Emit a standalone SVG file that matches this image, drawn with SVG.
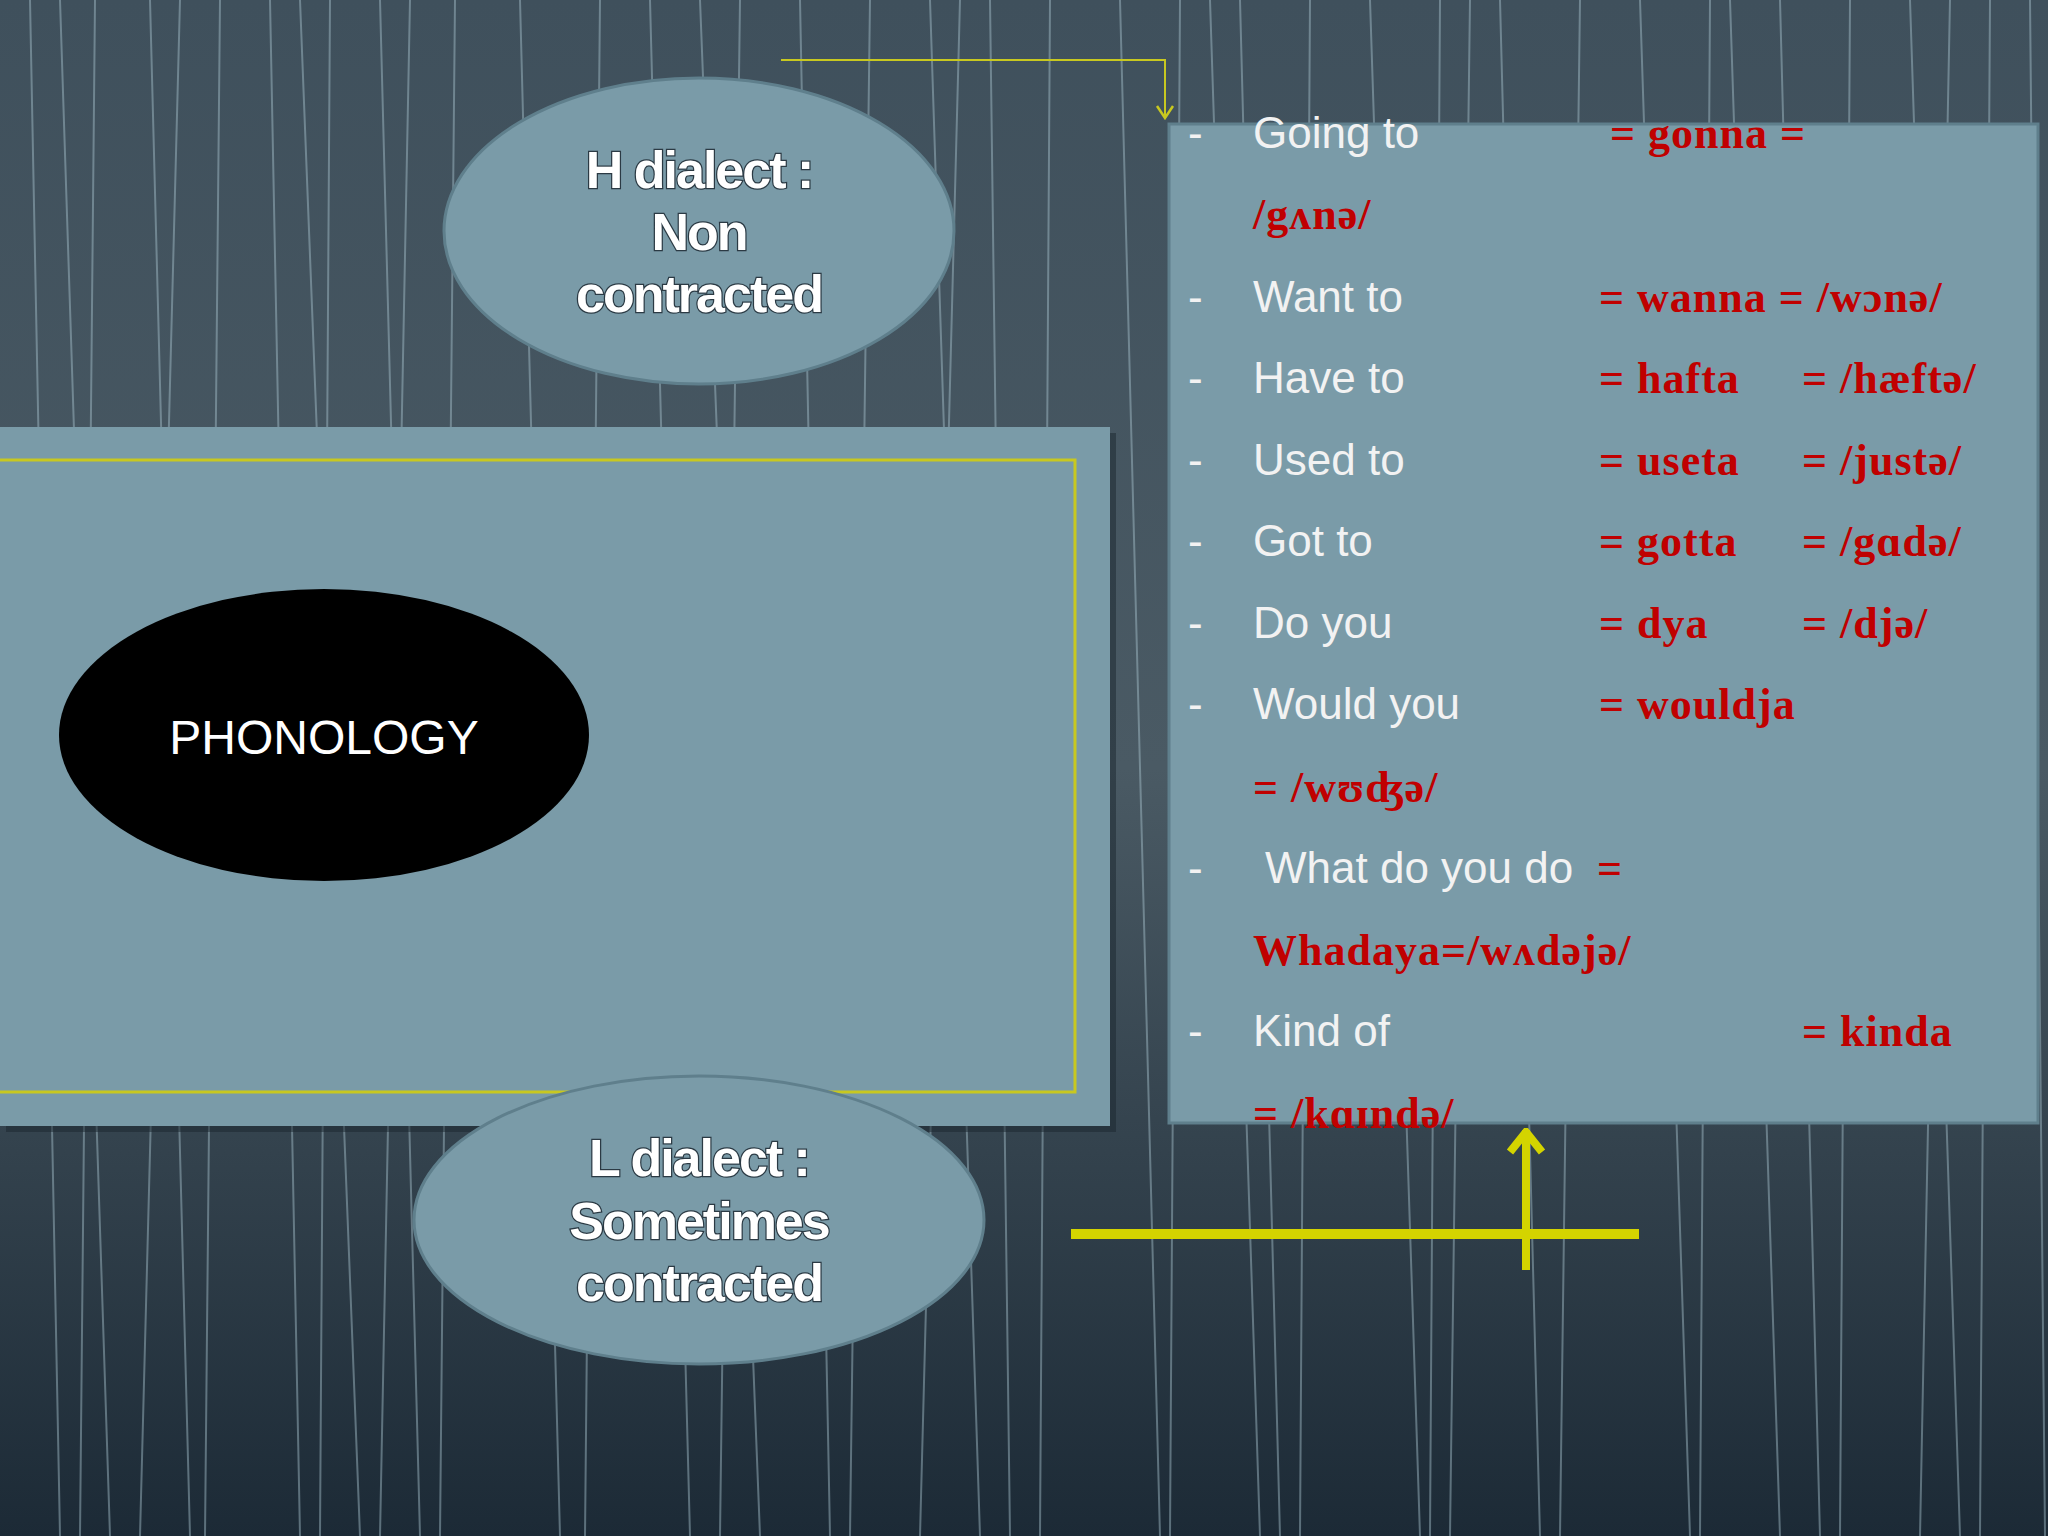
<svg xmlns="http://www.w3.org/2000/svg" width="2048" height="1536" viewBox="0 0 2048 1536">
<defs>
<linearGradient id="bg" x1="0" y1="0" x2="0" y2="1"><stop offset="0" stop-color="#3f505c"/><stop offset="0.5" stop-color="#4a5a64"/><stop offset="1" stop-color="#1c2a36"/></linearGradient>
<marker id="chev" viewBox="0 0 20 20" refX="10" refY="18" markerWidth="20" markerHeight="20" markerUnits="userSpaceOnUse" orient="0"><path d="M2,6 L10,18 L18,6" fill="none" stroke="#c8c820" stroke-width="2.5"/></marker>
<marker id="big" viewBox="0 0 40 30" refX="20" refY="2" markerWidth="40" markerHeight="30" markerUnits="userSpaceOnUse" orient="0"><path d="M4,24 L20,4 L36,24" fill="none" stroke="#d4d400" stroke-width="8"/></marker>
</defs>
<style>
.bgl{stroke:#a9c4cf;stroke-width:2;opacity:0.45}
.lt{font-family:"Liberation Sans",Arial,sans-serif;font-size:44px;fill:#f2f2f2}
.rd{font-family:"Liberation Serif","DejaVu Serif",serif;font-size:44px;font-weight:bold;fill:#c00000;letter-spacing:1px}
.hd{font-family:"Liberation Sans",Arial,sans-serif;font-size:52px;font-weight:bold;fill:#ffffff;stroke:#2b3a44;stroke-width:2.5;paint-order:stroke;text-anchor:middle;letter-spacing:-2px}
.ell{fill:#7a9ba8;stroke:#5f7f8c;stroke-width:3}
</style>
<rect width="2048" height="1536" fill="url(#bg)"/>
<g id="bglines">
<path class="bgl" d="M30,0 L60,1536 M95,0 L80,1536 M150,0 L190,1536 M220,0 L205,1536 M270,0 L300,1536 M330,0 L320,1536 M380,0 L420,1536 M455,0 L440,1536 M520,0 L560,1536 M600,0 L585,1536 M650,0 L690,1536 M740,0 L720,1536 M800,0 L830,1536 M870,0 L850,1536 M930,0 L980,1536 M990,0 L1010,1536 M1050,0 L1040,1536 M1120,0 L1160,1536 M1180,0 L1170,1536 M1240,0 L1280,1536 M1310,0 L1300,1536 M1370,0 L1420,1536 M1440,0 L1430,1536 M1500,0 L1540,1536 M1580,0 L1560,1536 M1640,0 L1690,1536 M1710,0 L1700,1536 M1780,0 L1820,1536 M1850,0 L1840,1536 M1910,0 L1960,1536 M1990,0 L1980,1536 M2030,0 L2045,1536"/>
<path class="bgl" d="M60,0 L110,1536 M180,0 L140,1536 M300,0 L360,1536 M410,0 L380,1536 M700,0 L760,1536 M960,0 L920,1536 M1210,0 L1260,1536 M1470,0 L1450,1536 M1730,0 L1780,1536 M1950,0 L1920,1536" opacity="0.3"/>
</g>
<g id="main-box">
<rect x="6" y="433" width="1110" height="699" fill="#1a252d" opacity="0.5"/>
<rect x="0" y="427" width="1110" height="699" fill="#7a9ba8"/>
<rect x="-4" y="460" width="1079" height="632" fill="none" stroke="#c8c820" stroke-width="3"/>
</g>
<g id="phonology">
<ellipse cx="324" cy="735" rx="265" ry="146" fill="#000"/>
<text x="324" y="754" text-anchor="middle" font-family="Liberation Sans,Arial,sans-serif" font-size="48" fill="#fff">PHONOLOGY</text>
</g>
<g id="h-dialect">
<ellipse class="ell" cx="699" cy="231" rx="255" ry="153"/>
<text class="hd" x="699" y="188">H dialect :</text>
<text class="hd" x="699" y="250">Non</text>
<text class="hd" x="699" y="312">contracted</text>
</g>
<g id="l-dialect">
<ellipse class="ell" cx="699" cy="1220" rx="285" ry="144"/>
<text class="hd" x="699" y="1176">L dialect :</text>
<text class="hd" x="699" y="1239">Sometimes</text>
<text class="hd" x="699" y="1301">contracted</text>
</g>
<g id="list-panel">
<rect x="1169" y="124" width="869" height="999" fill="#7a9ba8" stroke="#5f7f8c" stroke-width="3"/>
<g class="lt">
<text x="1188" y="148">-</text><text x="1253" y="148">Going to</text>
<text x="1188" y="312">-</text><text x="1253" y="312">Want to</text>
<text x="1188" y="393">-</text><text x="1253" y="393">Have to</text>
<text x="1188" y="475">-</text><text x="1253" y="475">Used to</text>
<text x="1188" y="556">-</text><text x="1253" y="556">Got to</text>
<text x="1188" y="638">-</text><text x="1253" y="638">Do you</text>
<text x="1188" y="719">-</text><text x="1253" y="719">Would you</text>
<text x="1188" y="883">-</text><text x="1265" y="883">What do you do</text>
<text x="1188" y="1046">-</text><text x="1253" y="1046">Kind of</text>
</g>
<g class="rd">
<text x="1610" y="148">= gonna =</text>
<text x="1253" y="229">/gʌnə/</text>
<text x="1599" y="312">= wanna = /wɔnə/</text>
<text x="1599" y="393">= hafta</text><text x="1802" y="393">= /hæftə/</text>
<text x="1599" y="475">= useta</text><text x="1802" y="475">= /justə/</text>
<text x="1599" y="556">= gotta</text><text x="1802" y="556">= /gɑdə/</text>
<text x="1599" y="638">= dya</text><text x="1802" y="638">= /djə/</text>
<text x="1599" y="719">= wouldja</text>
<text x="1253" y="802">= /wʊʤə/</text>
<text x="1597" y="883">=</text>
<text x="1253" y="965">Whadaya=/wʌdəjə/</text>
<text x="1802" y="1046">= kinda</text>
<text x="1253" y="1128">= /kɑɪndə/</text>
</g>
</g>
<g id="connectors" fill="none">
<path d="M781,60 L1165,60 L1165,118" stroke="#c8c820" stroke-width="2" marker-end="url(#chev)"/>
<path d="M1071,1234 L1639,1234" stroke="#d4d400" stroke-width="10"/>
<path d="M1526,1270 L1526,1130" stroke="#d4d400" stroke-width="8" marker-end="url(#big)"/>
</g>
</svg>
